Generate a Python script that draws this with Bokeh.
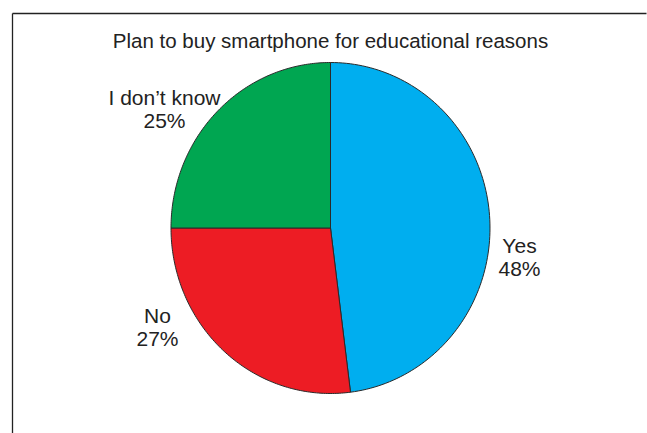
import numpy as np
from bokeh.plotting import figure
from bokeh.models import Range1d
from bokeh.core.properties import value
from bokeh.embed import file_html
from bokeh.resources import INLINE

# ---- data ----
title_text = "Plan to buy smartphone for educational reasons"
categories = ["Yes", "No", "I don\u2019t know"]
percents = [48, 27, 25]
colors = ["#00aeef", "#ed1c24", "#00a651"]

# ---- layout ----
W, H = 647, 433
cx, cy = 330, 227.5
rx, ry = 159.5, 165.5
FONT = value("Liberation Sans")

p = figure(width=W, height=H, output_backend="svg", toolbar_location=None,
           x_range=Range1d(0, W), y_range=Range1d(H, 0), min_border=0)
p.axis.visible = False
p.grid.visible = False
p.outline_line_color = None
p.background_fill_color = "white"

# frame (left and top edges)
p.segment(x0=[12, 12], y0=[13, 13], x1=[12, 646], y1=[H, 13],
          line_color="#222222", line_width=1.3)

# pie slices, clockwise from top
total = float(sum(percents))
start = 90.0
xs, ys = [], []
for v in percents:
    sweep = 360.0 * v / total
    ang = np.radians(np.linspace(start, start - sweep, 120))
    xs.append([cx] + list(cx + rx * np.cos(ang)) + [cx])
    ys.append([cy] + list(cy - ry * np.sin(ang)) + [cy])
    start -= sweep
p.patches(xs=xs, ys=ys, fill_color=colors, line_color="#2a2a2a", line_width=1)

# title
p.text(x=[330], y=[40], text=[title_text], text_font=FONT, text_font_size="20.5px",
       text_align="center", text_baseline="alphabetic", text_color="#222222")

# slice labels
lab_x = [519, 157, 164]
lab_y = [245, 315, 97]
p.text(x=lab_x, y=lab_y, text=categories, text_font=FONT, text_font_size="21px",
       text_align="center", text_baseline="alphabetic", text_color="#222222")
p.text(x=lab_x, y=[y + 23 for y in lab_y], text=[f"{v}%" for v in percents],
       text_font=FONT, text_font_size="21px",
       text_align="center", text_baseline="alphabetic", text_color="#222222")

open("out.html", "w").write(file_html(p, INLINE))
